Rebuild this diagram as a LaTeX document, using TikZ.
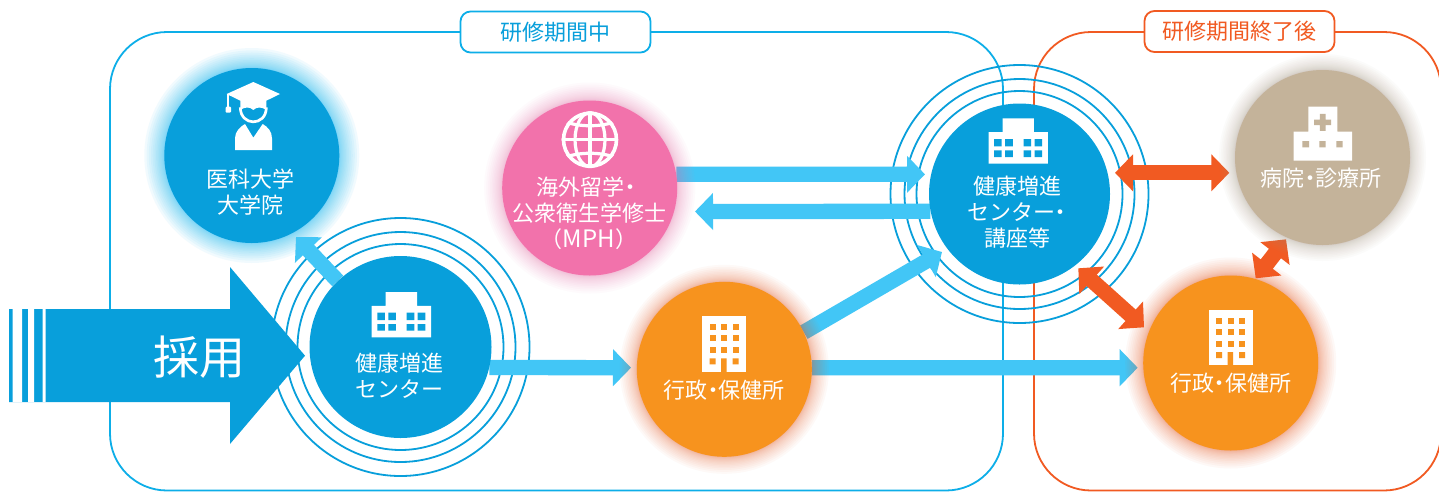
\documentclass[tikz,border=0pt]{standalone}
\usepackage{fontspec}
\setmainfont{Noto Sans CJK JP}
\usetikzlibrary{arrows.meta}
\definecolor{circblue}{HTML}{089FDB}
\definecolor{panelblue}{HTML}{0DAEE8}
\definecolor{arrowblue}{HTML}{42C6F6}
\definecolor{circorange}{HTML}{F7931E}
\definecolor{circpink}{HTML}{F272AB}
\definecolor{circtan}{HTML}{C4B39A}
\definecolor{accent}{HTML}{F15A22}
\pgfdeclarelayer{back}
\pgfsetlayers{back,main}
\newcommand{\nd}{\hspace{-5.5pt}・\hspace{-5.5pt}}
% centre, radius, glow reach, colour, opacity of one layer
\newcommand{\glowdisc}[5]{%
  \foreach \gi in {1,...,16}{%
    \pgfmathsetmacro{\gr}{#2+#3*pow(\gi/16,1.9)}%
    \fill[#4,opacity=#5] (#1) circle[radius=\gr];}}
\newcommand{\wideoffice}[2]{%
  \begin{scope}[shift={(#1,#2)}]
    \fill[white] (-29.7,13.8) rectangle (29.7,45.4) (-15.7,0) rectangle (15.7,14);
    \fill[circblue] (-24,20.7) rectangle (-16.5,28) (-13,20.7) rectangle (-5.4,28)
      (5.3,20.7) rectangle (13,28) (16.3,20.7) rectangle (24,28)
      (-24,32) rectangle (-16.5,38.7) (-13,32) rectangle (-5.4,38.7)
      (5.3,32) rectangle (13,38.7) (16.3,32) rectangle (24,38.7);
  \end{scope}}
\newcommand{\talloffice}[2]{%
  \begin{scope}[shift={(#1,#2)}]
    \fill[white] (-22,0) rectangle (22,55.4);
    \foreach \wy in {7.7,19,30.7}{
      \foreach \wx in {-14.3,-3,8.7}{
        \fill[circorange] (\wx,\wy) rectangle (\wx+6,\wy+6);}}
    \fill[circorange] (-14.3,42) rectangle (-8.3,48) (8.7,42) rectangle (14.7,48)
      (-3,42) rectangle (2.7,55.6);
  \end{scope}}
\tikzset{
  x=1pt,y=-1pt,
  disc/.style={circle,inner sep=0pt,minimum size=#1,text=white},
  lbl/.style={inner sep=0pt,text=white,align=center,font=\fontsize{22}{26}\selectfont},
  ringline/.style={draw=circblue,line width=1.8pt},
  fatblue/.style={draw=arrowblue,line width=15.3pt,-{Triangle[length=18pt,width=36pt]}},
  fatorange/.style={draw=accent,line width=15.3pt,{Triangle[length=18pt,width=36pt]}-{Triangle[length=18pt,width=36pt]}},
  panel/.style={line width=1.8pt,rounded corners=57pt},
  tagbox/.style={draw=#1,text=#1,fill=white,line width=1.8pt,rounded corners=10pt,minimum width=190pt,minimum height=41pt,inner sep=0pt,font=\fontsize{22}{26}\selectfont},
}
\begin{document}
\begin{tikzpicture}
\useasboundingbox (0,0) rectangle (1439,491);
% ---- circles
\node[disc=175pt,fill=circblue] (med) at (251.8,155.5) {};
\node[disc=182pt,fill=circblue] (left) at (400.5,347) {};
\node[disc=175pt,fill=circpink] (pink) at (589.7,188) {};
\node[disc=175pt,fill=circorange] (gov) at (724.3,369.3) {};
\node[disc=181pt,fill=circblue] (right) at (1019.5,194) {};
\node[disc=175pt,fill=circtan] (hosp) at (1322.5,157.5) {};
\node[disc=175pt,fill=circorange] (gova) at (1230.7,363) {};
% ---- free arrow ends
\coordinate (t1) at (296,237);
\coordinate (t2) at (631,367.7);
\coordinate (s3) at (925,174.3);
\coordinate (t4) at (695,211.5);
\coordinate (t5) at (942,252);
\coordinate (t6) at (1137.7,367.7);
\coordinate (a1) at (1115,172.8);
\coordinate (a2) at (1229.3,172.8);
\coordinate (a3) at (1078.3,268.3);
\coordinate (a4) at (1144,327.3);
\coordinate (a5) at (1255.7,278.3);
\coordinate (a6) at (1286,239.3);
\begin{pgfonlayer}{back}
  \fill[white] (0,0) rectangle (1439,491);
  \begin{scope}
    \clip (0,0) rectangle (1439,491);
    \draw[panel,draw=panelblue] (110,32) rectangle (1003,490.5);
    \draw[panel,draw=accent] (1034,32) rectangle (1441,490.5);
  \end{scope}
  \foreach \rr in {103,115,129}{
    \draw[ringline] (left) circle[radius=\rr];
    \draw[ringline] (right) circle[radius=\rr];}
  % entry arrow
  \fill[circblue] (9,309) -- (230,309) -- (230,267) -- (305,355.7) -- (230,444) -- (230,402) -- (9,402) -- cycle;
  \fill[white] (12.7,309) rectangle (22,402) (28,309) rectangle (34,402) (42.7,309) rectangle (45.7,402);
  % connectors
  \draw[fatblue] (left) -- (t1);
  \draw[fatblue] (left.-13) -- (t2);
  \draw[fatblue] (pink.9) -- (s3);
  \draw[fatblue] (right.191.1) -- (t4);
  \draw[fatblue] (gov.25) -- (t5);
  \draw[fatblue] (gov.1) -- (t6);
  \draw[fatorange] (a1) -- (a2);
  \draw[fatorange] (a3) -- (a4);
  \draw[fatorange] (a5) -- (a6);
  % glows
  \glowdisc{med}{87.5}{20}{arrowblue}{.07}
  \glowdisc{pink}{87.5}{18}{circpink}{.035}
  \glowdisc{gov}{87.5}{17}{accent}{.035}
  \glowdisc{gova}{87.5}{18}{accent}{.04}
  \glowdisc{hosp}{87.5}{16}{circtan!85!black}{.035}
\end{pgfonlayer}
% ---- tags
\node[tagbox=panelblue,text=circblue] (tagin) at (555.5,32) {研修期間中};
\node[tagbox=accent] (tagafter) at (1239.5,31.5) {研修期間終了後};
% ---- entry label
\node[inner sep=0pt,text=white,font=\fontsize{46}{50}\selectfont] (hire) at (199.5,357) {採用};
% ---- graduate icon
\begin{scope}[shift={(190,70)},scale=1/3]
  \fill[white] (110,72) -- (190,36) -- (270,72) -- (229,92) -- (229,120)
    .. controls (215,110) and (200,110) .. (190,120)
    .. controls (180,110) and (165,110) .. (151,120) -- (151,92) -- cycle;
  \draw[white,line width=2.7pt] (151,112) .. controls (151,170) and (229,170) .. (229,112);
  \fill[white] (111,72) rectangle (118,112);
  \fill[white,rounded corners=1pt] (107,110) rectangle (123,128);
  \fill[white] (135,240) -- (135,205) .. controls (135,185) and (150,170) .. (165,162)
    -- (190,203) -- (218,162) .. controls (233,170) and (246,185) .. (246,205) -- (246,240) -- cycle;
\end{scope}
\node[lbl] (medt) at (250.5,192) {医科大学\\大学院};
% ---- left centre
\wideoffice{401.3}{292}
\node[lbl] (leftt) at (399.5,375.5) {健康増進\\センター};
% ---- globe
\begin{scope}
  \clip (590,139.7) circle[radius=28.4];
  \begin{scope}[white,line width=3.2pt]
    \draw (590,111) -- (590,168) (561,139.7) -- (619,139.7);
    \draw (590,139.7) ellipse[x radius=15,y radius=27];
    \draw (566,122) .. controls (580,127) and (600,127) .. (614,122);
    \draw (566,157) .. controls (580,152) and (600,152) .. (614,157);
  \end{scope}
\end{scope}
\draw[white,line width=3.6pt] (590,139.7) circle[radius=26.5];
\node[lbl] (pinkt) at (589,213) {海外留学\hspace{-5.5pt}・\hspace{-5.5pt}\\公衆衛生学修士\\（{\fontsize{24}{26}\selectfont MPH}）};
% ---- government offices
\talloffice{724}{316.3}
\node[lbl] (govt) at (724,390) {行政\nd 保健所};
\talloffice{1230.5}{310}
\node[lbl] (govat) at (1230.5,383.3) {行政\nd 保健所};
% ---- right centre
\wideoffice{1018.2}{118.3}
\node[lbl] (rightt) at (1017.5,212) {健康増進\\\hspace{4pt}センター\hspace{-5.5pt}・\hspace{-5.5pt}\\講座等};
% ---- hospital
\fill[white] (1308.3,106.7) rectangle (1337.3,132) (1293.7,131.7) rectangle (1352,160.7);
\fill[circtan] (1314.2,119.5) rectangle (1331.2,125.2) (1319.9,113.8) rectangle (1325.5,130.8)
  (1302.3,141) rectangle (1309,147.3) (1319.3,141) rectangle (1325.7,147.3) (1336.3,141) rectangle (1342.7,147.3);
\node[lbl] (hospt) at (1321,178.3) {病院\nd 診療所};
\end{tikzpicture}
\end{document}
